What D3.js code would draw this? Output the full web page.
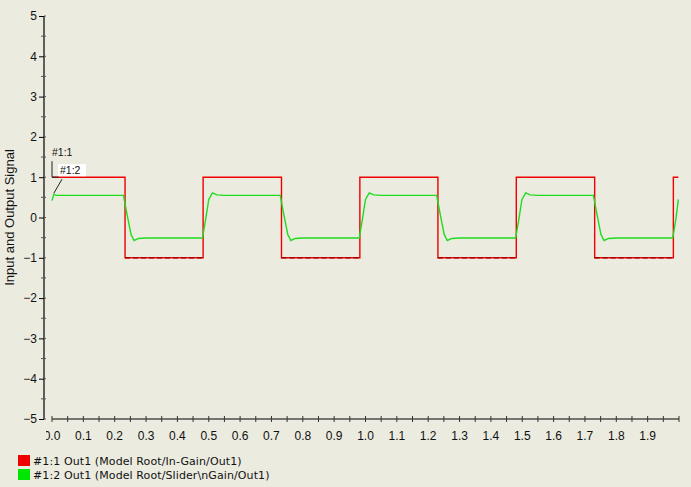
<!DOCTYPE html>
<html>
<head>
<meta charset="utf-8">
<script src="https://cdn.jsdelivr.net/npm/d3@7"></script>
<style>
  html, body { margin: 0; padding: 0; background: #ebebe0; }
  svg { display: block; font-family: "Liberation Sans", Arial, sans-serif; }
</style>
</head>
<body>
<svg id="chart" width="691" height="487"></svg>
<script>
// Input square wave (#1:1) as step breakpoints
const inTime  = [0, 0.233, 0.233, 0.482, 0.482, 0.732, 0.732, 0.982, 0.982, 1.231, 1.231, 1.481, 1.481, 1.731, 1.731, 1.982, 1.982, 1.998];
const inValue = [1, 1, -1, -1, 1, 1, -1, -1, 1, 1, -1, -1, 1, 1, -1, -1, 1, 1];

// Filtered output (#1:2) sampled around every edge
const outTime = [
  0, 0.006, 0.014,
  0.228, 0.240, 0.252, 0.262, 0.276, 0.300,
  0.480, 0.490, 0.500, 0.512, 0.526, 0.550,
  0.728, 0.740, 0.752, 0.762, 0.776, 0.800,
  0.980, 0.990, 1.000, 1.012, 1.026, 1.050,
  1.227, 1.239, 1.251, 1.261, 1.275, 1.300,
  1.479, 1.489, 1.499, 1.511, 1.525, 1.550,
  1.727, 1.739, 1.751, 1.761, 1.775, 1.800,
  1.980, 1.990, 1.998
];
const outValue = [
  0.42, 0.58, 0.55,
  0.55, 0.05, -0.42, -0.57, -0.52, -0.51,
  -0.51, -0.05, 0.45, 0.61, 0.56, 0.55,
  0.55, 0.05, -0.42, -0.57, -0.52, -0.51,
  -0.51, -0.05, 0.45, 0.61, 0.56, 0.55,
  0.55, 0.05, -0.42, -0.57, -0.52, -0.51,
  -0.51, -0.05, 0.45, 0.61, 0.56, 0.55,
  0.55, 0.05, -0.42, -0.57, -0.52, -0.51,
  -0.51, -0.05, 0.45
];

const yTickValues = [-5, -4, -3, -2, -1, 0, 1, 2, 3, 4, 5];
const xLabelValues = [0.0, 0.1, 0.2, 0.3, 0.4, 0.5, 0.6, 0.7, 0.8, 0.9, 1.0, 1.1, 1.2, 1.3, 1.4, 1.5, 1.6, 1.7, 1.8, 1.9];
const seriesNames = ["#1:1 Out1 (Model Root/In-Gain/Out1)", "#1:2 Out1 (Model Root/Slider\\nGain/Out1)"];
const seriesTags = ["#1:1", "#1:2"];
const yTitle = "Input and Output Signal";

const colors = ["#f00000", "#1fdc1f"];

const svg = d3.select("#chart");
const x = d3.scaleLinear().domain([0, 2.0]).range([52, 679]);
const y = d3.scaleLinear().domain([-5, 5]).range([419, 16]);
const axisX = 44;   // left axis position
const axisY = 419;  // bottom axis position

// ---- Y axis ----
const yMinor = d3.range(-5, 5.01, 0.5).filter(v => Math.abs(v % 1) > 0.01);
const gy = svg.append("g").attr("transform", `translate(${axisX},0)`);
gy.append("line").attr("x1", 0).attr("x2", 0).attr("y1", y(5)).attr("y2", y(-5))
  .attr("stroke", "#000").attr("stroke-width", 1.2);
gy.call(d3.axisLeft(y).tickValues(yTickValues).tickSize(5).tickPadding(2).tickFormat(d3.format("d")))
  .call(g => g.select(".domain").remove())
  .call(g => g.selectAll("text").attr("font-size", 12).attr("fill", "#111"));
gy.selectAll(".minor").data(yMinor).join("line")
  .attr("x1", -3).attr("x2", 2).attr("y1", d => y(d)).attr("y2", d => y(d))
  .attr("stroke", "#555").attr("stroke-width", 1);
gy.selectAll(".majorR").data(yTickValues).join("line")
  .attr("x1", 0).attr("x2", 2).attr("y1", d => y(d)).attr("y2", d => y(d))
  .attr("stroke", "#555").attr("stroke-width", 1);

// ---- X axis ----
const xTicks = d3.range(0, 2.001, 0.05);
const gx = svg.append("g").attr("transform", `translate(0,${axisY})`);
gx.append("line").attr("x1", x(0)).attr("x2", x(2.0)).attr("y1", 0).attr("y2", 0)
  .attr("stroke", "#000").attr("stroke-width", 1.2);
gx.selectAll(".xt").data(xTicks).join("line")
  .attr("x1", d => x(d)).attr("x2", d => x(d)).attr("y1", -3).attr("y2", 3)
  .attr("stroke", "#333").attr("stroke-width", 1);
svg.append("clipPath").attr("id", "xlabClip").append("rect")
  .attr("x", 46).attr("y", 0).attr("width", 645).attr("height", 487);
gx.append("g").attr("clip-path", "url(#xlabClip)")
  .selectAll("text").data(xLabelValues).join("text")
  .attr("x", d => x(d)).attr("y", 21)
  .attr("text-anchor", "middle").attr("font-size", 12).attr("fill", "#111")
  .text(d => d3.format(".1f")(d));

// Y axis title
svg.append("text")
  .attr("transform", `translate(14,${(y(5) + y(-5)) / 2}) rotate(-90)`)
  .attr("text-anchor", "middle").attr("font-size", 13).attr("fill", "#111")
  .text(yTitle);

// ---- Series ----
const line = d3.line().x(d => x(d[0])).y(d => y(d[1]));
const inPts = inTime.map((t, i) => [t, inValue[i]]);
const outPts = outTime.map((t, i) => [t, outValue[i]]);

svg.append("path").datum(inPts).attr("d", line)
  .attr("fill", "none").attr("stroke", colors[0]).attr("stroke-width", 1.4);
// darker sample marks along the low segments of the input
const lowSegs = [];
for (let i = 0; i < inPts.length - 1; i++) {
  if (inPts[i][1] === -1 && inPts[i + 1][1] === -1) lowSegs.push([inPts[i], inPts[i + 1]]);
}
svg.selectAll(".low").data(lowSegs).join("path")
  .attr("d", line).attr("fill", "none").attr("stroke", "#a00000")
  .attr("stroke-width", 1.6).attr("stroke-dasharray", "5,3");

svg.append("path").datum(outPts).attr("d", line)
  .attr("fill", "none").attr("stroke", colors[1]).attr("stroke-width", 1.4);

// ---- Start-point tags ----
const a1 = [x(inTime[0]), y(inValue[0])];
const a2 = [x(outTime[1]), y(outValue[1])];
svg.append("path")
  .attr("d", `M${a1[0]},${a1[1] - 16}V${a1[1]}H${a1[0] + 7}`)
  .attr("fill", "none").attr("stroke", "#222").attr("stroke-width", 1);
svg.append("text").attr("x", a1[0]).attr("y", a1[1] - 21)
  .attr("font-size", 10.5).attr("fill", "#111").text(seriesTags[0]);
svg.append("rect").attr("x", a1[0] + 6).attr("y", a1[1] - 13).attr("width", 28).attr("height", 12)
  .attr("fill", "#ffffff");
svg.append("text").attr("x", a1[0] + 8).attr("y", a1[1] - 3)
  .attr("font-size", 10.5).attr("fill", "#111").text(seriesTags[1]);
svg.append("line")
  .attr("x1", a1[0] + 10).attr("y1", a1[1] + 2).attr("x2", a2[0]).attr("y2", a2[1] - 1)
  .attr("stroke", "#222").attr("stroke-width", 1);

// ---- Legend ----
const lg = svg.append("g").attr("transform", "translate(18,455)");
seriesNames.forEach((name, i) => {
  lg.append("rect").attr("x", 0).attr("y", i * 14).attr("width", 12).attr("height", 11)
    .attr("fill", i === 0 ? "#ee0000" : "#00e600");
  lg.append("text").attr("x", 15).attr("y", i * 14 + 10)
    .attr("font-family", "'DejaVu Sans', Verdana, sans-serif")
    .attr("font-size", 11).attr("letter-spacing", 0.1).attr("fill", "#111").text(name);
});
</script>
</body>
</html>
